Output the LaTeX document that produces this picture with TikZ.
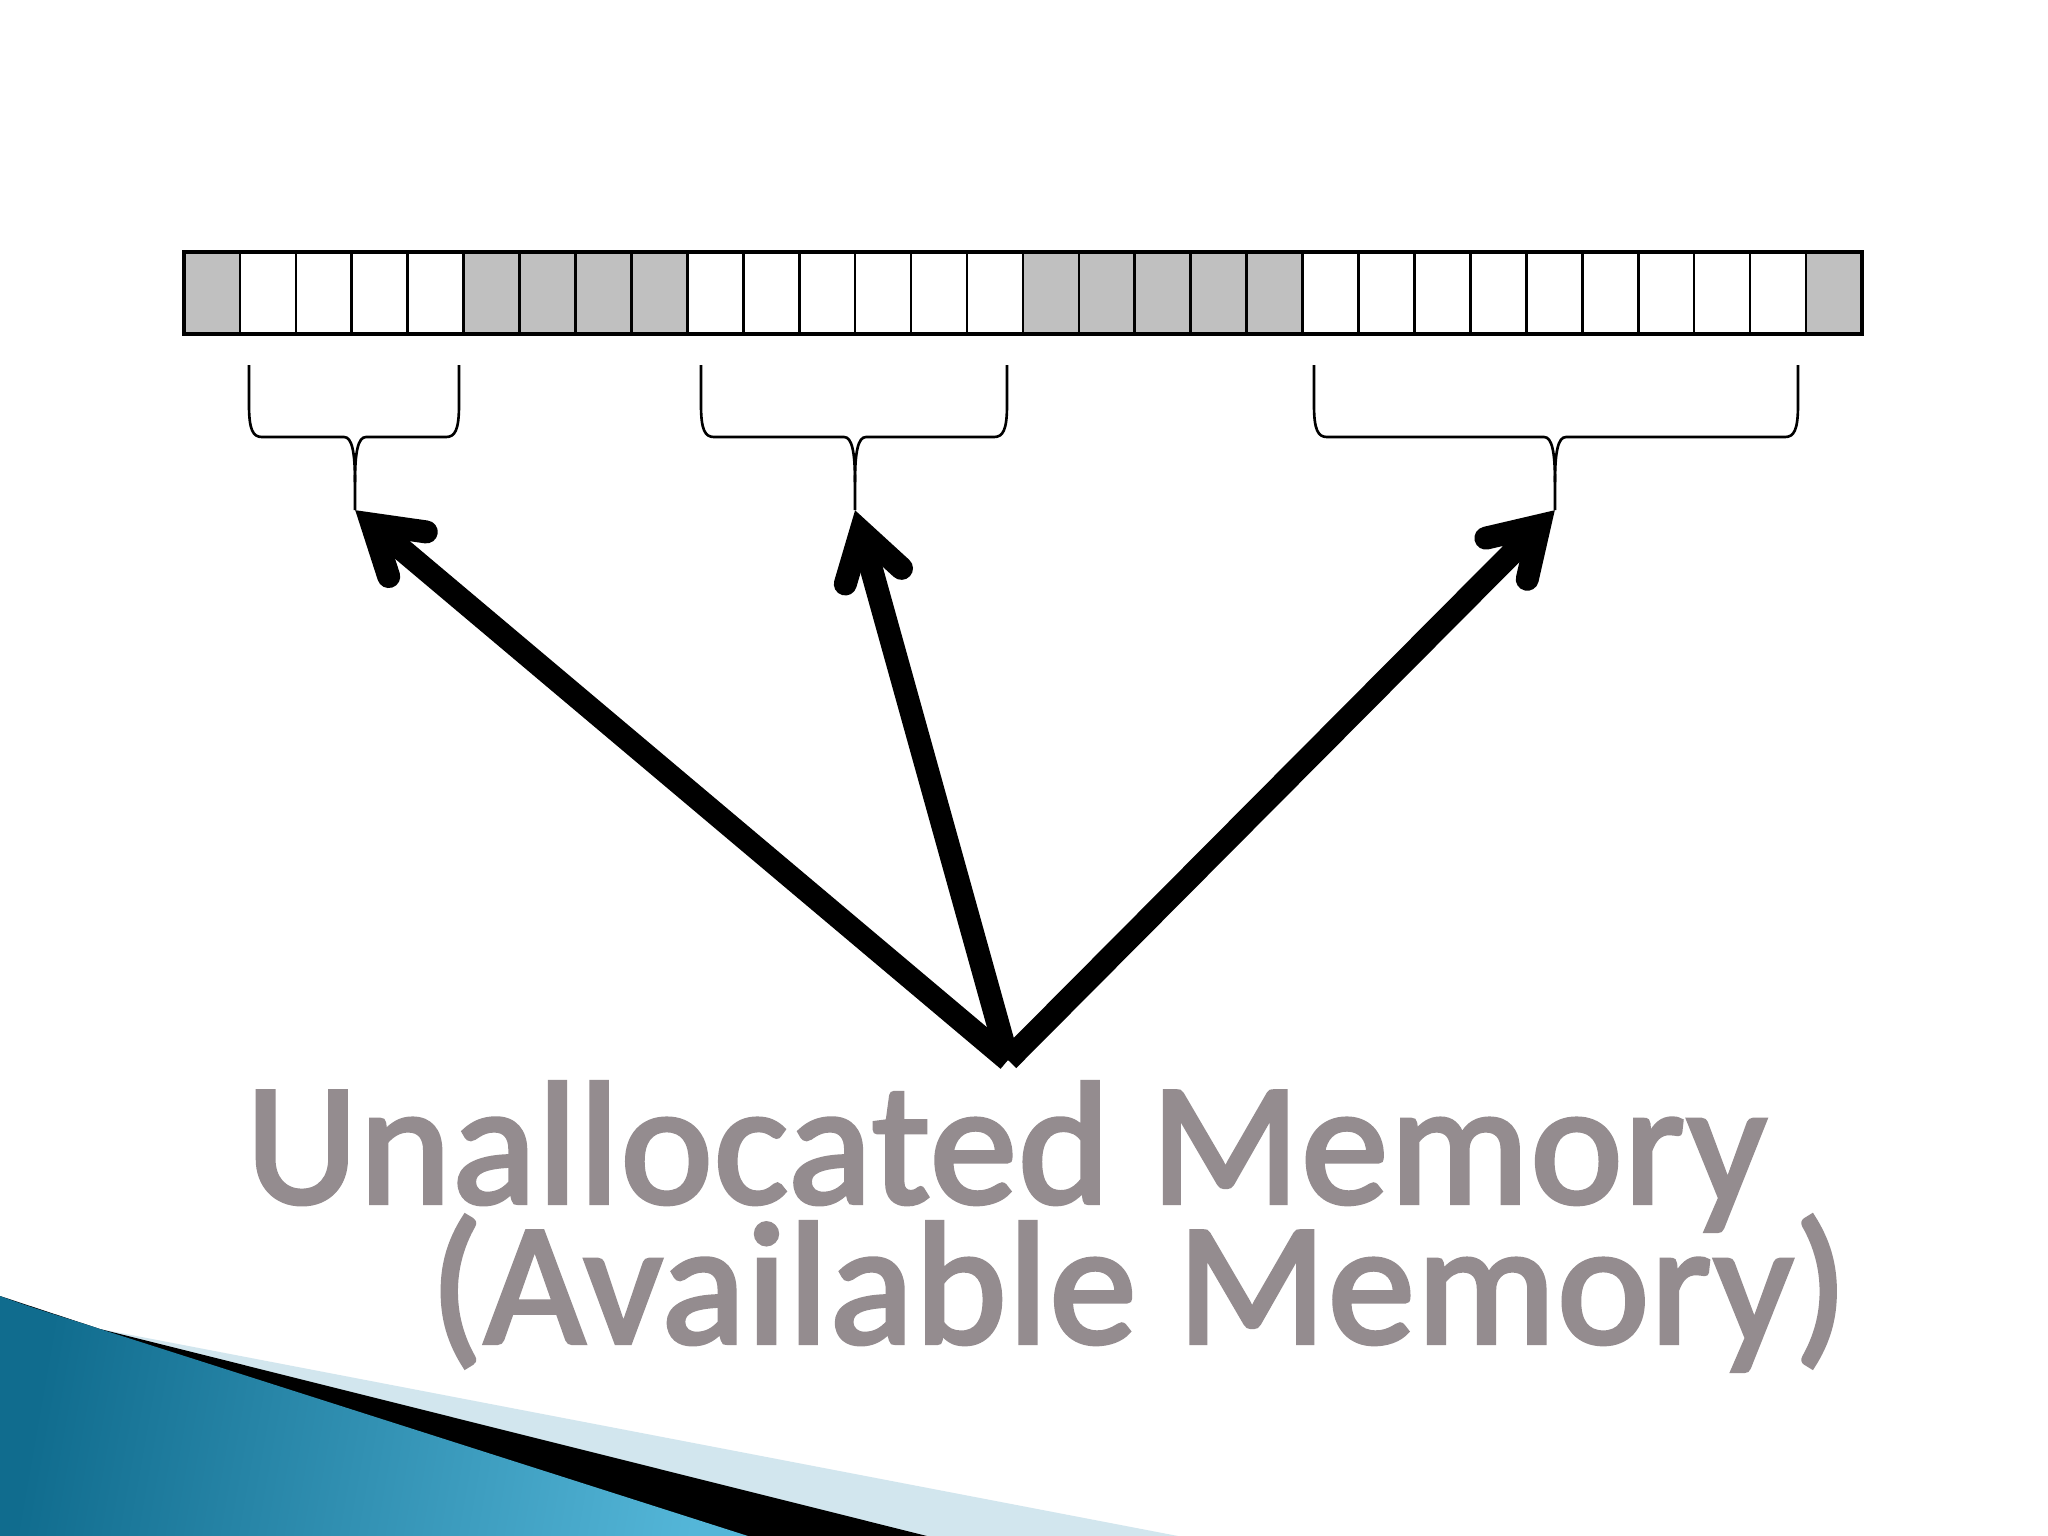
\documentclass[tikz,border=0pt]{standalone}
\usepackage{fontspec}
\setmainfont{Carlito}
\newfontfamily\titlefont[FakeBold=2.5, LetterSpace=1.0]{Carlito}
\usetikzlibrary{calc}
\definecolor{cellgray}{HTML}{C0C0C0}
\definecolor{txtgray}{RGB}{148,140,143}
\definecolor{bandblue}{RGB}{210,230,238}
\definecolor{deepblue}{RGB}{16,108,142}
\definecolor{liteblue}{RGB}{84,182,216}
\tikzset{
  cell/.style={draw=black, line width=0.75pt, minimum width=0.5593cm, minimum height=0.82cm, inner sep=0pt, outer sep=0pt},
  bracestyle/.style={draw=black, line width=0.75pt},
  arrowline/.style={draw=black, line width=0.23cm, line cap=butt},
  barb/.style={draw=black, line width=0.23cm, line cap=round, line join=miter},
  txt/.style={inner sep=0pt, outer sep=0pt, font=\titlefont\fontsize{49.5}{52}\selectfont},
}
\begin{document}
\begin{tikzpicture}[x=0.01cm,y=-0.01cm]
\useasboundingbox (0,0) rectangle (2048,1536);
\fill[white] (0,0) rectangle (2048,1536);

% bottom-left decoration
\fill[bandblue] (0,1296) -- (100,1329) -- (1178,1536) -- (0,1536) -- cycle;
\fill[black] (0,1296) -- (100,1329) -- (927,1536) -- (0,1536) -- cycle;
\shade[left color=deepblue, right color=liteblue, shading angle=80]
  (0,1296) .. controls (35,1309) and (70,1319) .. (100,1329) -- (748,1536) -- (0,1536) -- cycle;

% memory bar
\foreach \i/\f in {0/cellgray,1/white,2/white,3/white,4/white,5/cellgray,6/cellgray,7/cellgray,8/cellgray,
  9/white,10/white,11/white,12/white,13/white,14/white,15/cellgray,16/cellgray,17/cellgray,18/cellgray,19/cellgray,
  20/white,21/white,22/white,23/white,24/white,25/white,26/white,27/white,28/white,29/cellgray}
  \node[cell, fill=\f] (c\i) at ({184+55.93*(\i+0.5)},293) {};
\draw[line width=1pt] (c0.north west) rectangle (c29.south east);

% braces
\foreach \xl/\xr/\xt/\n in {249/459/355/1, 701/1007/855/2, 1314/1798/1555/3} {
  \coordinate (t\n) at (\xt,510);
  \draw[bracestyle] (\xl,365) -- (\xl,405) .. controls (\xl,430) and (\xl+4,437) .. (\xl+13,437)
     -- (\xt-11,437) .. controls (\xt-3,437) and (\xt,452) .. (\xt,482) -- (t\n);
  \draw[bracestyle] (\xr,365) -- (\xr,405) .. controls (\xr,430) and (\xr-4,437) .. (\xr-13,437)
     -- (\xt+11,437) .. controls (\xt+3,437) and (\xt,452) .. (\xt,482);
}

% arrows
\coordinate (src) at (1008,1060);
\foreach \n in {1,2,3} {
  \coordinate (h\n) at ($(t\n)!0.22cm!(src)$);
  \draw[arrowline] (src) -- (h\n);
  \draw[barb] ($(h\n)!0.55cm!32:(src)$) -- (h\n) -- ($(h\n)!0.55cm!-32:(src)$);
}

% text
\node[txt, text=txtgray, anchor=base west] (l1) at (246,1203) {Unallocated Memory};
\node[txt, text=txtgray, anchor=base west] (l2) at (430,1343) {(Available Memory)};
\end{tikzpicture}
\end{document}
